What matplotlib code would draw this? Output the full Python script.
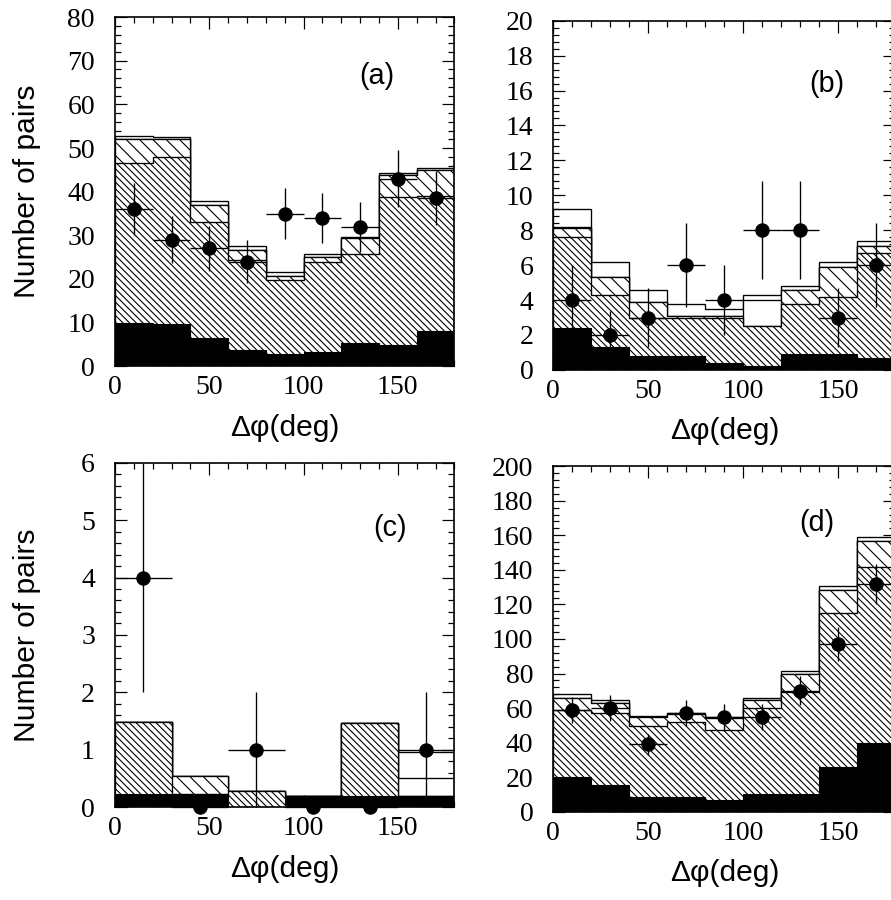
import matplotlib.pyplot as plt
from matplotlib.ticker import MultipleLocator

plt.rcParams['font.family'] = 'Liberation Serif'
plt.rcParams['hatch.linewidth'] = 1.0
plt.rcParams['hatch.color'] = 'black'

# bin edges / bin centres
edges_20 = [0, 20, 40, 60, 80, 100, 120, 140, 160, 180]
phi_20 = [10, 30, 50, 70, 90, 110, 130, 150, 170]
edges_30 = [0, 30, 60, 90, 120, 150, 180]
phi_30 = [15, 45, 75, 105, 135, 165]

# panel (a): stacked tops of each component
a_black = [10, 9.8, 6.5, 3.8, 2.8, 3.2, 5.3, 4.8, 8.2]
a_dense = [46.5, 48, 33, 24.3, 19.7, 23.9, 25.8, 38.9, 39]
a_sparse = [52, 52, 37, 26.6, 20.8, 25, 29.3, 43.8, 45]
a_inner = [52, 52, 37, 26.6, 20.8, 25, 29.3, 43.8, 45]
a_outer = [52.7, 52.5, 37.8, 27.6, 21.6, 25.7, 29.7, 44.3, 45.5]
a_data = [36, 29, 27, 24, 35, 34, 32, 43, 38.5]
a_err = [6, 5.4, 5.2, 4.9, 5.9, 5.8, 5.7, 6.6, 6.2]

# panel (b)
b_black = [2.4, 1.3, 0.8, 0.8, 0.4, 0.25, 0.9, 0.9, 0.7]
b_dense = [7.6, 4.3, 3.0, 3.0, 3.0, 2.5, 3.8, 4.2, 6.7]
b_sparse = [8.1, 5.3, 3.9, 3.1, 3.1, 2.5, 4.6, 5.9, 7.1]
b_inner = [8.2, 5.3, 3.9, 3.1, 3.1, 4.0, 4.6, 5.9, 7.1]
b_outer = [9.2, 6.2, 4.6, 3.8, 3.5, 4.3, 4.8, 6.2, 7.4]
b_data = [4, 2, 3, 6, 4, 8, 8, 3, 6]
b_err = [2, 1.4, 1.7, 2.4, 2, 2.8, 2.8, 1.7, 2.4]

# panel (c), 30 degree bins
c_black = [0.24, 0.24, 0, 0.19, 0.19, 0.19]
c_dense = [1.49, 0.24, 0.28, 0.19, 1.46, 0.19]
c_sparse = [1.49, 0.55, 0.28, 0.19, 1.46, 0.19]
c_inner = [1.49, 0.55, 0.28, 0.19, 1.46, 0.51]
c_outer = [1.49, 0.55, 0.28, 0.19, 1.46, 0.97]
c_data = [4, 0, 1, 0, 0, 1]
c_err = [2, 0, 1, 0, 0, 1]

# panel (d)
d_black = [20.4, 15.6, 8.5, 8.5, 7, 10.4, 10.4, 26.2, 39.7]
d_dense = [59, 57, 49.9, 52.2, 47.4, 60, 69.5, 114.8, 141.8]
d_sparse = [65.7, 63.2, 55, 56.5, 54, 64.5, 79.8, 128.3, 157]
d_inner = [65.7, 63.2, 55, 56.5, 54, 64.5, 79.8, 128.3, 157]
d_outer = [68, 64.7, 55.7, 57.4, 55, 65.7, 81.5, 130.6, 159.2]
d_data = [59, 60, 39, 57, 55, 55, 70, 97, 132]
d_err = [7.7, 7.7, 6.2, 7.5, 7.4, 7.4, 8.4, 9.8, 11.5]

SANS = 'Liberation Sans'


def draw_panel(ax, edges, layers, phi, half, data, err, ymax, ymaj, ymin, tag, tagpos):
    black, dense, sparse, inner, outer = layers
    ax.stairs(outer, edges, fill=True, facecolor='white', edgecolor='black', lw=1.2, zorder=1)
    ax.stairs(inner, edges, fill=True, facecolor='white', edgecolor='black', lw=1.2, zorder=2)
    ax.stairs(sparse, edges, fill=True, facecolor='white', edgecolor='black', hatch='\\\\', lw=1.2, zorder=3)
    ax.stairs(dense, edges, fill=True, facecolor='white', edgecolor='black', hatch='\\\\\\\\', lw=1.2, zorder=4)
    ax.stairs(black, edges, fill=True, facecolor='black', edgecolor='black', lw=1.0, zorder=5)
    ax.errorbar(phi, data, xerr=half, yerr=err, fmt='o', color='black', ms=12,
                elinewidth=1.2, capsize=0, zorder=6, clip_on=False)

    ax.set_xlim(0, 180)
    ax.set_ylim(0, ymax)
    ax.xaxis.set_major_locator(MultipleLocator(50))
    ax.xaxis.set_minor_locator(MultipleLocator(10))
    ax.yaxis.set_major_locator(MultipleLocator(ymaj))
    ax.yaxis.set_minor_locator(MultipleLocator(ymin))
    ax.tick_params(which='both', direction='in', top=True, right=True, width=1.1)
    ax.tick_params(which='major', length=11)
    ax.tick_params(which='minor', length=5)
    ax.tick_params(axis='y', labelsize=25, pad=18)
    ax.tick_params(axis='x', labelsize=25, pad=8)
    for s in ax.spines.values():
        s.set_linewidth(1.5)
        s.set_zorder(7)
    ax.set_xlabel('Δφ(deg)', fontfamily=SANS, fontsize=27, labelpad=12)
    ax.text(tagpos[0], tagpos[1], tag, transform=ax.transAxes, fontfamily=SANS,
            fontsize=26, ha='center', va='center')


fig = plt.figure(figsize=(891 / 80, 900 / 80), dpi=80)
ax_a = fig.add_axes([0.129, 0.593, 0.381, 0.388])
ax_b = fig.add_axes([0.621, 0.589, 0.384, 0.388])
ax_c = fig.add_axes([0.129, 0.103, 0.381, 0.383])
ax_d = fig.add_axes([0.621, 0.098, 0.384, 0.384])

draw_panel(ax_a, edges_20, (a_black, a_dense, a_sparse, a_inner, a_outer),
           phi_20, 10, a_data, a_err, 80, 10, 2, '(a)', (0.77, 0.83))
draw_panel(ax_b, edges_20, (b_black, b_dense, b_sparse, b_inner, b_outer),
           phi_20, 10, b_data, b_err, 20, 2, 0.4, '(b)', (0.80, 0.82))
draw_panel(ax_c, edges_30, (c_black, c_dense, c_sparse, c_inner, c_outer),
           phi_30, 15, c_data, c_err, 6, 1, 0.2, '(c)', (0.81, 0.81))
draw_panel(ax_d, edges_20, (d_black, d_dense, d_sparse, d_inner, d_outer),
           phi_20, 10, d_data, d_err, 200, 20, 4, '(d)', (0.77, 0.835))

for ax in (ax_a, ax_c):
    ax.set_ylabel('Number of pairs', fontfamily=SANS, fontsize=27, va='center')
    ax.yaxis.set_label_coords(-0.26, 0.5)

fig.savefig('out.png', dpi=80)
